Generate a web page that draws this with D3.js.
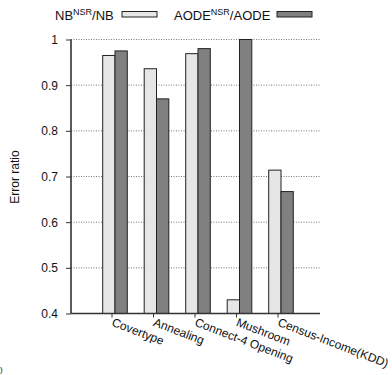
<!DOCTYPE html>
<html><head><meta charset="utf-8">
<script src="https://cdn.jsdelivr.net/npm/d3@7"></script>
<style>body{margin:0;background:#fff}svg{display:block}text{font-family:"Liberation Sans",Arial,sans-serif;fill:#111}</style>
</head><body><svg id="c" width="392" height="375"></svg>
<script>
const categories = ["Covertype","Annealing","Connect-4 Opening","Mushroom","Census-Income(KDD)"];
const nbRatio = [0.965, 0.936, 0.969, 0.430, 0.714];
const aodeRatio = [0.975, 0.870, 0.980, 1.0, 0.667];
const yTicks = [0.4,0.5,0.6,0.7,0.8,0.9,1];
const yTickLabels = ["0.4","0.5","0.6","0.7","0.8","0.9","1"];

(function(){
const svg = d3.select("#c");
const pL = 71, pR = 320, pT = 39.5, pB = 313.5;
const y = d3.scaleLinear().domain([0.4,1]).range([pB, pT]);
const x = d3.scaleBand().domain(categories).range([94.25, 301.75]).paddingInner(0).paddingOuter(0);
const bw = 12.3;

// gridlines
svg.append("g").selectAll("line").data(yTicks.filter(d=>d>0.4)).join("line")
  .attr("x1", pL).attr("x2", pR).attr("y1", d=>y(d)).attr("y2", d=>y(d))
  .attr("stroke", "#777").attr("stroke-width", 1).attr("stroke-dasharray", "1,1.5");

// bars
const g = svg.append("g");
categories.forEach((c,i)=>{
  const cx = x(c) + x.bandwidth()/2;
  g.append("rect").attr("x", cx - bw).attr("y", y(nbRatio[i])).attr("width", bw)
    .attr("height", y(0.4) - y(nbRatio[i])).attr("fill", "#e6e6e6").attr("stroke", "#222").attr("stroke-width", 1);
  g.append("rect").attr("x", cx).attr("y", y(aodeRatio[i])).attr("width", bw)
    .attr("height", y(0.4) - y(aodeRatio[i])).attr("fill", "#808080").attr("stroke", "#222").attr("stroke-width", 1);
});

// y axis
const ya = svg.append("g").attr("transform", `translate(${pL},0)`)
  .call(d3.axisLeft(y).tickValues(yTicks).tickFormat((d,i)=>yTickLabels[i]).tickSize(5).tickPadding(8));
ya.select(".domain").attr("stroke", "#333").attr("stroke-width", 1.6).attr("d", `M0,${pT}V${pB}`);
ya.selectAll(".tick line").attr("stroke", "#333");
ya.selectAll(".tick text").attr("font-size", 12).attr("font-family", "Liberation Sans, Arial, sans-serif").attr("fill", "#111");

// x axis
const xa = svg.append("g").attr("transform", `translate(0,${pB})`)
  .call(d3.axisBottom(x).tickSize(4).tickSizeOuter(0));
xa.select(".domain").attr("stroke", "#333").attr("stroke-width", 1.6).attr("d", `M${pL},0H${pR}`);
xa.selectAll(".tick").attr("transform", d => `translate(${x(d) + x.bandwidth()/2 - 3},0)`);
xa.selectAll(".tick line").attr("stroke", "#333");
xa.selectAll(".tick text").attr("font-size", 12).attr("font-family", "Liberation Sans, Arial, sans-serif")
  .attr("fill", "#111").attr("text-anchor", "start").attr("dy", null)
  .attr("transform", "translate(-1,12) rotate(21)").attr("y", 0).attr("x", 0);

// y label
svg.append("text").attr("transform", "translate(19,177) rotate(-90)").attr("text-anchor", "middle")
  .attr("font-size", 12).text("Error ratio");

// legend
function legText(xp, main, sup, tail){
  const t = svg.append("text").attr("x", xp).attr("y", 20).attr("font-size", 13);
  t.append("tspan").text(main);
  t.append("tspan").attr("font-size", 9).attr("dy", -5).text(sup);
  t.append("tspan").attr("dy", 5).text(tail);
}
legText(55, "NB", "NSR", "/NB");
svg.append("rect").attr("x", 122).attr("y", 11.5).attr("width", 35).attr("height", 5.5).attr("fill", "#e6e6e6").attr("stroke", "#222");
legText(174, "AODE", "NSR", "/AODE");
svg.append("rect").attr("x", 277).attr("y", 11.5).attr("width", 35).attr("height", 5.5).attr("fill", "#808080").attr("stroke", "#222");

// stray glyph at bottom-left
svg.append("text").attr("x", 0).attr("y", 372).attr("font-size", 8).attr("fill", "#555").text(")");
})();
</script></body></html>
